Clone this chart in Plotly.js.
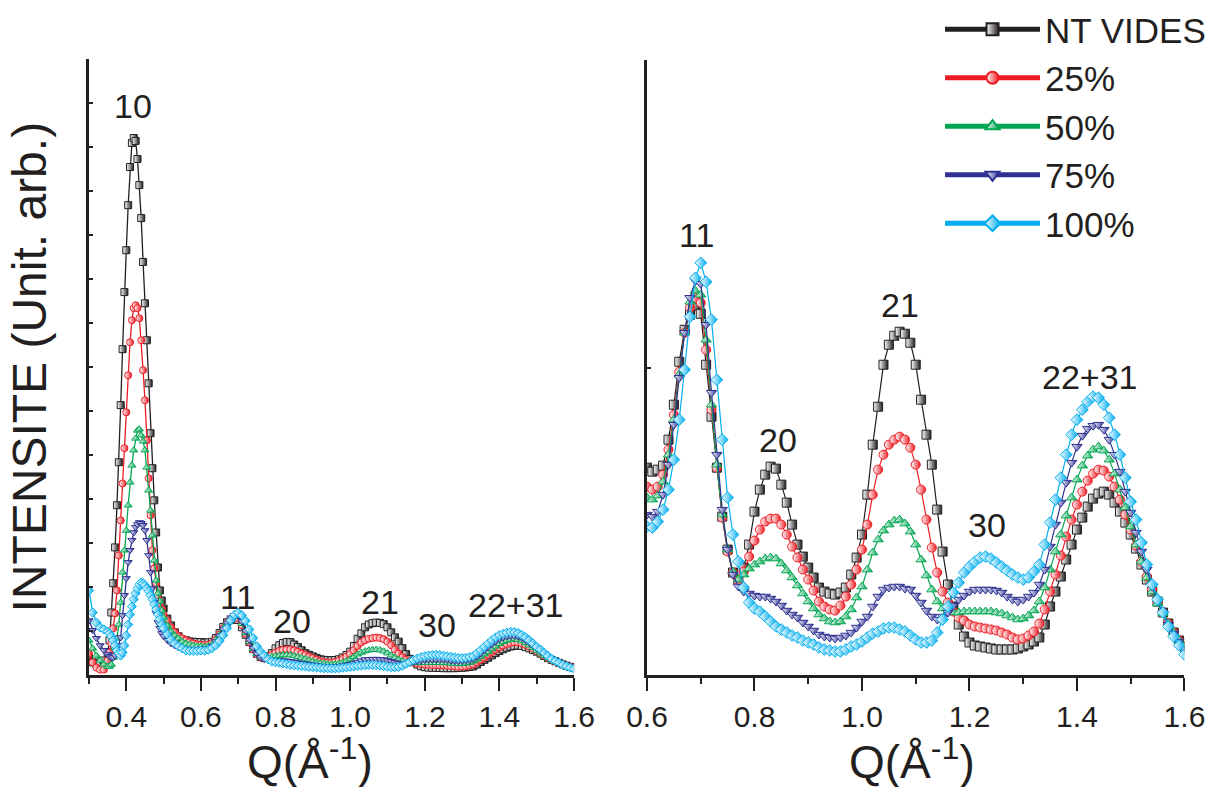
<!DOCTYPE html>
<html><head><meta charset="utf-8">
<script src="https://cdn.plot.ly/plotly-3.0.1.min.js"></script>
<style>html,body{margin:0;padding:0;background:#fff;}#chart{width:1224px;height:787px;}</style>
</head><body><div id="chart"></div>
<script>
// Q (Å^-1)
const Q = [0.30,0.31,0.32,0.33,0.34,
0.35,0.355,0.36,0.365,0.37,0.375,0.38,0.385,0.39,0.395,0.40,0.405,0.41,0.415,0.42,0.425,0.43,0.435,0.44,0.445,0.45,0.455,0.46,0.465,0.47,0.475,0.48,0.485,0.49,0.495,0.50,
0.51,0.52,0.53,0.54,0.55,0.56,0.57,0.58,0.59,
0.60,0.61,0.62,0.63,0.64,0.65,0.66,0.67,0.68,0.69,
0.70,0.71,0.72,0.73,0.74,0.75,0.76,0.77,0.78,0.79,
0.80,0.81,0.82,0.83,0.84,0.85,0.86,0.87,0.88,0.89,
0.90,0.91,0.92,0.93,0.94,0.95,0.96,0.97,0.98,0.99,
1.00,1.01,1.02,1.03,1.04,1.05,1.06,1.07,1.08,1.09,
1.10,1.11,1.12,1.13,1.14,1.15,1.16,1.17,1.18,1.19,
1.20,1.21,1.22,1.23,1.24,1.25,1.26,1.27,1.28,1.29,
1.30,1.31,1.32,1.33,1.34,1.35,1.36,1.37,1.38,1.39,
1.40,1.41,1.42,1.43,1.44,1.45,1.46,1.47,1.48,1.49,
1.50,1.51,1.52,1.53,1.54,1.55,1.56,1.57,1.58,1.59,
1.60];

// Intensities (arbitrary units)
const ntVides = [59,45,38,45,52,
80,122,219,321,446,593,743,942,1137,1336,1482,1639,1772,1856,1873,1863,1800,1709,1594,1441,1297,1168,1018,844,722,610,498,376,296,261,233,
198,174,150,136,125,122,118,117,116,
116,114,115,117,130,147.5,169,185,192.5,197,
193,167.5,141.5,116,91.5,75,63.5,60,66,77.5,
94,105,112.5,116.5,115.5,107.5,98.5,87.5,77.5,71.5,
66,61,56,54,53,52.5,53.5,56,62.5,71,
82.5,102.5,127.5,146.5,167.5,177.5,182,184,183,178.5,
167.5,150,132.5,117.5,95,74,57.5,46.5,37.5,31.5,
28.5,27,26.5,26,25.5,25,25,25,25,25.5,
26.5,27.5,29,31,37.5,46.5,54,61.5,70,77.5,
85,91,96.5,100.5,103,104,102.5,98.5,94,88.5,
82.5,75.5,67.5,60,54,49,43.5,38,33.5,29.5,
26.5];

const pct25 = [76,45,27,20,20,
52,80,111,164,216,296,418,540,669,792,917,1046,1161,1238,1280,1290,1280,1245,1168,1064,959,819,687,558,436,373,321,279,251,230,212,
191,167,150,136,129,122,116,111,108,
106.5,105,106.5,112.5,125,142.5,164,183.5,196,201,
198.5,175,145,116,91,74,63.5,59.5,64,71.5,
79.5,85,89,90.5,90.5,87.5,82.5,76.5,71,65,
60,54.5,49,46.5,45,44.5,47,51.5,57.5,65,
75,87.5,102.5,115,122.5,127.5,130,131.5,130,126,
117.5,105,90,76,63.5,54,48.5,44,41,39.5,
37.5,36.5,36,35.5,35,34.5,33.5,32.5,31,30,
30.5,32,34,38,45,54,62.5,72,81.5,90,
97.5,104,109.5,113,115,114.5,111.5,106.5,100,92.5,
85,77,69,61.5,55,49,43.5,38,33.5,29.5,
26.5];

const pct50 = [122,94,69,52,38,
31,31,38,62,97,129,177,254,359,436,505,593,673,732,785,826,854,858,837,816,785,725,645,575,488,401,331,286,258,226,202,
174,153,139,129,118,111,108,104,102,
101,100,102,109,122.5,140,162.5,183.5,199,204.5,
202.5,180,147.5,117.5,92.5,75,64,60,62.5,65.5,
67.5,69,70.5,71,70.5,68,64.5,61,57,53,
49,45.5,42.5,40.5,39,38.5,39,41.5,45,51,
56.5,65,73.5,80,84.5,87.5,89.5,90,88,84,
77.5,70,62,55,49,45.5,44,43.5,43.5,44,
44,44,44,44,44,43.5,43,42,41,40,
40.5,42,44.5,49,56,65,74,82.5,92,101,
110,117,122,125,126.5,124.5,120,113,105,96,
86.5,77.5,69,61,54,48,43,38,33.5,29.5,
26];

const pct75 = [191,157,129,104,87,
73,66,62,62,69,83,104,132,209,279,338,394,436,471,498,516,526,533,530,523,505,471,418,359,303,254,216,184,164,146,136,
122,111,104,97,94,92,91,91,91,
92.5,91.5,94,102.5,117.5,137.5,161,183.5,201,209.5,
208,187.5,153.5,122.5,95,75,62.5,56.5,54,53,
52,51.5,51.5,50.5,49,47,44.5,42.5,41,38.5,
36.5,34.5,32.5,31.5,31,30.5,31,32,33.5,36,
39,41.5,46.5,51.5,55,56,56.5,56.5,55.5,55,
52,48.5,44.5,41.5,40,41.5,43.5,47,50,52,
54,55,55,55,55,54.5,53.5,51.5,50,49,
50,51.5,53.5,57.5,65,76.5,87.5,98.5,108.5,118.5,
126.5,132,135.5,137,137.5,135,130,122.5,114,104,
93.5,83.5,74,65,56.5,49.5,43,37.5,33,29,
25.5];

const pct100 = [296,219,184,167,160,
153,146,136,122,104,87,76,69,80,104,139,177,212,240,265,286,303,317,324,321,314,303,293,279,265,247,230,212,195,177,164,
143,125,111,101,94,87,85,85,85,
86.5,86,89,95,105,120,140,165,191.5,211,
218.5,209,190,160,130,101,82.5,69,56,48.5,
45.5,44,41.5,39,36.5,35,33.5,32,31,29.5,
28.5,27.5,26,25,24.5,24,24,25,26.5,27.5,
29,31,33,34,35.5,36,36,35,34,32,
30,28.5,28.5,29.5,33.5,40,46.5,53.5,58.5,63.5,
66.5,69,71,71.5,70.5,68.5,66.5,64.5,62.5,61,
60,61,64,67.5,77.5,88.5,100,111,122.5,132.5,
140,145,149,151.5,151,147.5,141,132.5,122.5,111,
99,90,78.5,67.5,57.5,50,43.5,36.5,31.5,27,
22.5];

const seriesNames = ['NT VIDES','25%','50%','75%','100%'];
const leftPeakLabels = ['10','11','20','21','30','22+31'];
const rightPeakLabels = ['11','20','21','30','22+31'];
const xTitle = 'Q(Å<sup>-1</sup>)';
const yTitle = 'INTENSITE (Unit. arb.)';

const allSeries = [ntVides, pct25, pct50, pct75, pct100];
const colors = ['#231f20','#ed1c24','#00a651','#2e3192','#00aeef'];
const symbols = ['square','circle','triangle-up','triangle-down','diamond'];

const data = [];
allSeries.forEach((ys, i) => {
  data.push({
    type:'scatter', mode:'lines+markers', x:Q, y:ys, xaxis:'x', yaxis:'y',
    name:seriesNames[i], legendgroup:seriesNames[i], showlegend:true,
    line:{color:colors[i], width:1.3},
    marker:{symbol:symbols[i], size:7, color:'#ffffff',
            gradient:{type:'horizontal', color:colors[i]},
            line:{color:colors[i], width:1}}
  });
});
allSeries.forEach((ys, i) => {
  const xs = [], yy = [];
  Q.forEach((q, j) => { if (q >= 0.6 - 1e-9) { xs.push(q); yy.push(ys[j]); } });
  data.push({
    type:'scatter', mode:'lines+markers', x:xs, y:yy, xaxis:'x2', yaxis:'y2',
    name:seriesNames[i], legendgroup:seriesNames[i], showlegend:false,
    line:{color:colors[i], width:1.2},
    marker:{symbol:symbols[i], size:9, color:'#ffffff',
            gradient:{type:'horizontal', color:colors[i]},
            line:{color:colors[i], width:1}}
  });
});

const labelFont = {size:34, color:'#231f20'};
const leftAnchors = [[0.418,1985],[0.699,272],[0.844,191],[1.08,254],[1.232,174],[1.444,244]];
const rightAnchors = [[0.693,232.5],[0.844,130],[1.071,197.5],[1.233,87.5],[1.424,161.5]];
const annotations = [];
leftPeakLabels.forEach((t,i)=>annotations.push({xref:'x',yref:'y',x:leftAnchors[i][0],y:leftAnchors[i][1],text:t,showarrow:false,font:labelFont,xanchor:'center',yanchor:'middle'}));
rightPeakLabels.forEach((t,i)=>annotations.push({xref:'x2',yref:'y2',x:rightAnchors[i][0],y:rightAnchors[i][1],text:t,showarrow:false,font:labelFont,xanchor:'center',yanchor:'middle'}));
// x-axis titles below each panel
annotations.push({xref:'paper',yref:'paper',x:0.2533,y:-0.004,xanchor:'center',yanchor:'bottom',text:xTitle,showarrow:false,font:{size:46,color:'#231f20'}});
annotations.push({xref:'paper',yref:'paper',x:0.745,y:-0.004,xanchor:'center',yanchor:'bottom',text:xTitle,showarrow:false,font:{size:46,color:'#231f20'}});

const axisCommon = {showgrid:false, zeroline:false, showline:true, linewidth:2.5, linecolor:'#231f20', mirror:false};
const xCommon = Object.assign({}, axisCommon, {
  ticks:'outside', ticklen:13, tickwidth:2, tickcolor:'#231f20', dtick:0.2, tick0:0.4, tickformat:'.1f',
  tickfont:{size:30, color:'#231f20'},
  minor:{ticks:'outside', dtick:0.1, tick0:0.3, ticklen:6, tickwidth:2, tickcolor:'#231f20'}
});

const layout = {
  width:1224, height:787, margin:{l:0,r:0,t:0,b:0},
  paper_bgcolor:'#ffffff', plot_bgcolor:'#ffffff',
  font:{family:'Liberation Sans, Arial, sans-serif', color:'#231f20'},
  showlegend:true,
  legend:{x:0.768, y:1.0, xanchor:'left', yanchor:'top', font:{size:35, color:'#231f20'},
          itemwidth:95, itemsizing:'constant', bgcolor:'rgba(0,0,0,0)', tracegroupgap:0},
  xaxis:Object.assign({}, xCommon, {domain:[0.0727,0.469], range:[0.3,1.6], anchor:'y'}),
  yaxis:Object.assign({}, axisCommon, {domain:[0.1417,0.925], range:[-0.5,2148.5], anchor:'x',
        ticks:'inside', ticklen:4, tickwidth:1.5, tickcolor:'#231f20', tick0:-0.5, dtick:153.5, showticklabels:false,
        title:{text:yTitle, font:{size:48, color:'#231f20'}, standoff:25}}),
  xaxis2:Object.assign({}, xCommon, {domain:[0.5286,0.9677], range:[0.6,1.6], anchor:'y2', tick0:0.6,
        minor:{ticks:'outside', dtick:0.1, tick0:0.6, ticklen:6, tickwidth:2, tickcolor:'#231f20'}}),
  yaxis2:Object.assign({}, axisCommon, {domain:[0.1417,0.9238], range:[12,320], anchor:'x2',
        ticks:'inside', ticklen:4, tickwidth:1.5, tickcolor:'#231f20', tickvals:[166,320], showticklabels:false}),
  annotations:annotations
};

Plotly.newPlot('chart', data, layout, {displayModeBar:false, responsive:false});
</script>
</body></html>
